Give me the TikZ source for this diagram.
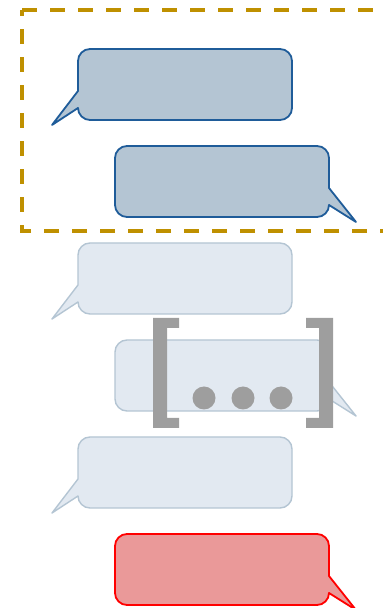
\documentclass[tikz,border=0pt]{standalone}
\definecolor{gold}{HTML}{BF9000}
\definecolor{darkfill}{HTML}{B4C5D3}
\definecolor{darkline}{HTML}{1F5C99}
\definecolor{lightfill}{HTML}{E2E9F1}
\definecolor{lightline}{HTML}{B4C5D3}
\definecolor{redfill}{HTML}{EA9999}
\definecolor{redline}{HTML}{FF0000}
\definecolor{brk}{HTML}{9E9E9E}
\tikzset{
  darkbub/.style={fill=darkfill,draw=darkline,line width=1.8pt,line join=round},
  lightbub/.style={fill=lightfill,draw=lightline,line width=1.4pt,line join=round},
  redbub/.style={fill=redfill,draw=redline,line width=1.8pt,line join=round},
  framebox/.style={draw=gold,line width=3.6pt,dash pattern=on 14.7pt off 13.3pt},
  brackshape/.style={fill=brk},
}
\newcommand\bubL[3]{%
  \draw[#1,shift={(#2,#3)}] (0,-42) -- (0,-12) arc[start angle=180,end angle=90,radius=12]
    -- (202,0) arc[start angle=90,end angle=0,radius=12]
    -- (214,-59) arc[start angle=0,end angle=-90,radius=12]
    -- (12,-71) arc[start angle=-90,end angle=-180,radius=12]
    -- (-26,-76) -- cycle;}
\newcommand\bubR[3]{%
  \draw[#1,shift={(#2,#3)}] (0,-12) arc[start angle=180,end angle=90,radius=12]
    -- (202,0) arc[start angle=90,end angle=0,radius=12]
    -- (214,-42) -- (241,-76) -- (214,-59)
    arc[start angle=0,end angle=-90,radius=12]
    -- (12,-71) arc[start angle=-90,end angle=-180,radius=12]
    -- cycle;}
\begin{document}
\begin{tikzpicture}[x=1pt,y=1pt]
\useasboundingbox (0,0) rectangle (383,608);
% dashed frame
\draw[framebox] (22,598) -- (392,598) -- (392,377) -- (22,377) -- cycle;
% bubbles
\bubL{darkbub}{78}{559}
\bubR{darkbub}{115}{462}
\bubL{lightbub}{78}{365}
\bubR{lightbub}{115}{268}
\bubL{lightbub}{78}{171}
\bubR{redbub}{115}{74}
% brackets
\fill[brackshape] (153,290) -- (179,290) -- (179,280) -- (167,280) -- (167,190) -- (179,190) -- (179,180) -- (153,180) -- cycle;
\fill[brackshape] (333,290) -- (306,290) -- (306,280) -- (319,280) -- (319,190) -- (306,190) -- (306,180) -- (333,180) -- cycle;
% dots
\fill[brk] (204,210) circle[radius=11.5];
\fill[brk] (243,210) circle[radius=11.5];
\fill[brk] (281,210) circle[radius=11.5];
\end{tikzpicture}
\end{document}
